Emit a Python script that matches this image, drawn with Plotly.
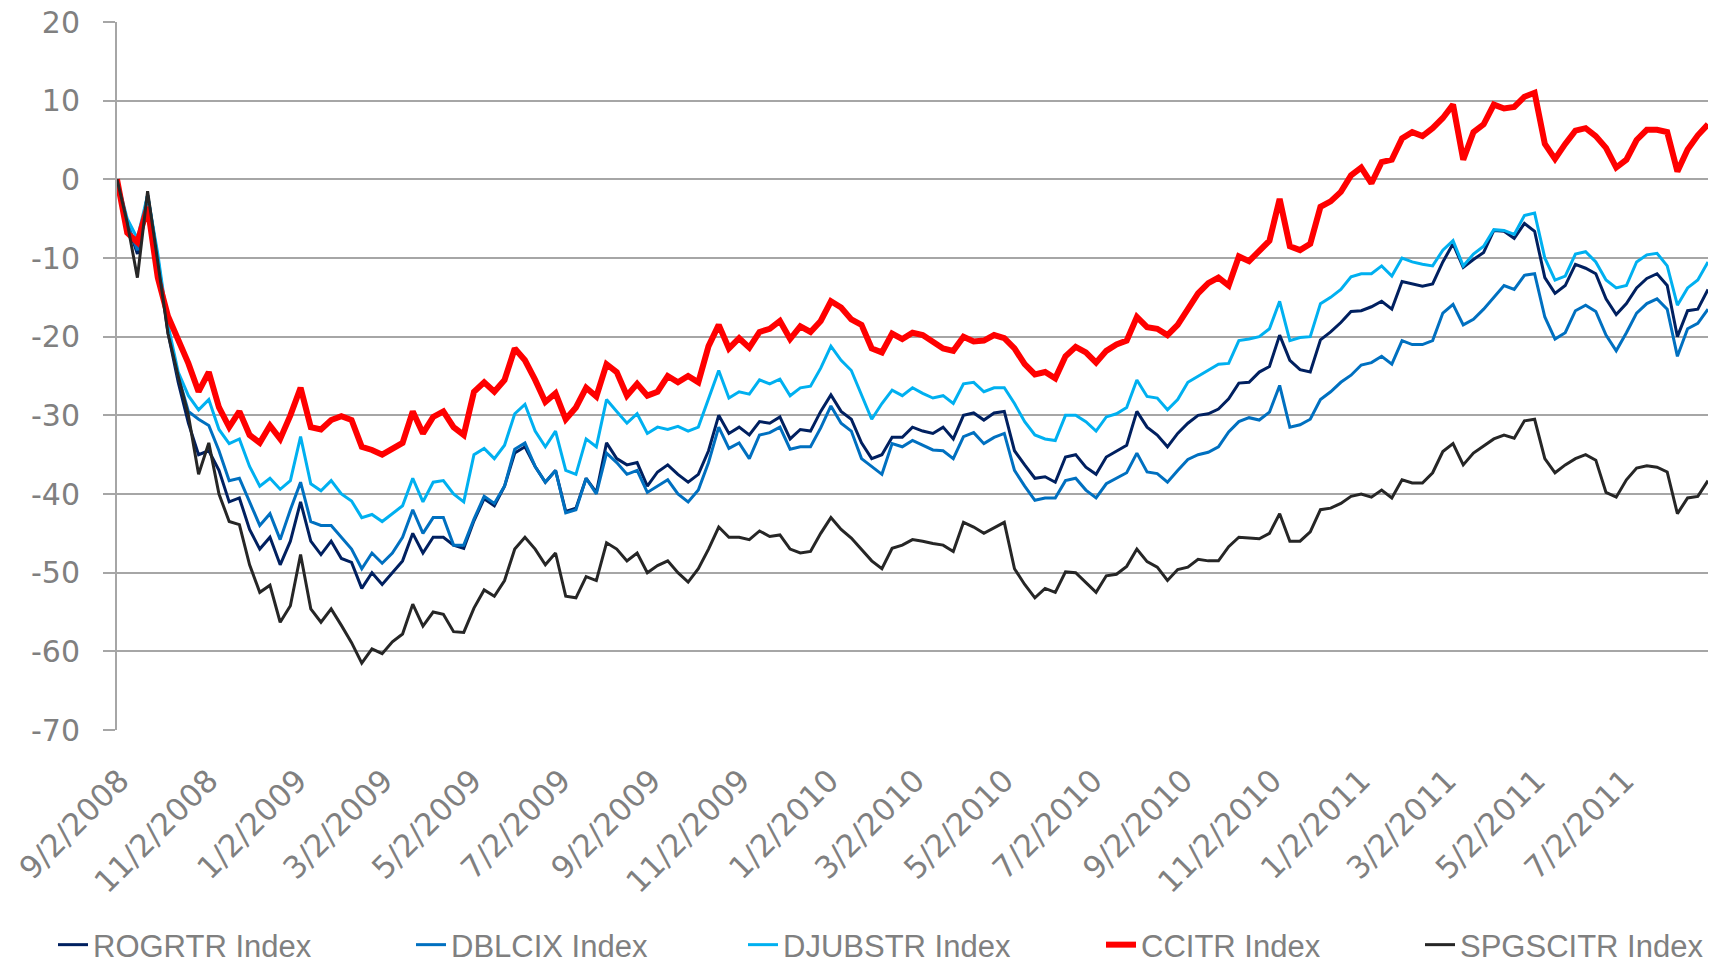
import pandas as pd
import plotly.graph_objects as go

# weekly samples (every 7 days from 9/2/2008)
START = "2008-09-02"
N_WEEKS = 157

ROGRTR = [
    0, -5.5, -9.5, -2, -10.2, -19.5, -25.8, -31, -35, -34.5,
    -37, -41, -40.5, -44.5, -47, -45.5, -49, -46, -41, -46,
    -47.7, -46, -48.2, -48.7, -52, -50, -51.5, -50, -48.5, -45,
    -47.5, -45.5, -45.5, -46.5, -46.9, -43.4, -40.6, -41.5, -39, -34.8,
    -34, -36.5, -38.5, -37, -42.2, -41.8, -38, -39.8, -33.5, -35.5,
    -36.3, -36, -39, -37.2, -36.3, -37.5, -38.5, -37.5, -34.5, -30,
    -32.3, -31.5, -32.5, -30.8, -31, -30.2, -33, -31.8, -32, -29.5,
    -27.4, -29.5, -30.5, -33.5, -35.5, -35, -32.8, -32.8, -31.5, -32,
    -32.3, -31.5, -33, -30, -29.7, -30.6, -29.7, -29.5, -34.5, -36.3,
    -38, -37.8, -38.5, -35.3, -35, -36.6, -37.5, -35.3, -34.5, -33.8,
    -29.5, -31.5, -32.5, -34, -32.3, -31, -30, -29.8, -29.2, -27.9,
    -25.9, -25.8, -24.5, -23.8, -19.8, -23, -24.2, -24.5, -20.4, -19.4,
    -18.2, -16.8, -16.7, -16.2, -15.5, -16.5, -13, -13.3, -13.6, -13.3,
    -10.5, -8.2, -11.2, -10.2, -9.3, -6.5, -6.6, -7.5, -5.6, -6.6,
    -12.5, -14.5, -13.5, -10.8, -11.3, -12, -15.2, -17.2, -15.8, -13.8,
    -12.6, -12, -13.5, -20, -16.7, -16.5, -14,
]

DBLCIX = [
    0, -5.5, -9, -2, -10, -19, -25, -29.5, -30.5, -31.3,
    -34.5, -38.3, -38, -41, -44, -42.5, -45.8, -42, -38.5, -43.5,
    -44, -44, -45.5, -47, -49.5, -47.5, -48.8, -47.5, -45.5, -42,
    -45, -43, -43, -46.5, -46.5, -43.2, -40.3, -41.2, -39, -34.3,
    -33.5, -36.5, -38.5, -37, -42.4, -42, -38, -40, -34.8, -36,
    -37.5, -37, -39.8, -39, -38.2, -40, -41, -39.5, -36, -31.5,
    -34.2, -33.5, -35.5, -32.5, -32.2, -31.5, -34.3, -34, -34, -31.6,
    -28.8, -31, -32, -35.5, -36.5, -37.5, -33.6, -34, -33.2, -33.8,
    -34.4, -34.5, -35.5, -32.7, -32.2, -33.6, -32.8, -32.3, -37, -39,
    -40.8, -40.5, -40.5, -38.3, -38, -39.5, -40.5, -38.7, -38, -37.3,
    -34.8, -37.2, -37.4, -38.5, -37, -35.6, -35, -34.7, -34, -32.1,
    -30.8, -30.3, -30.6, -29.6, -26.2, -31.5, -31.2, -30.5, -28, -27,
    -25.8, -24.9, -23.6, -23.3, -22.5, -23.5, -20.5, -21, -21, -20.5,
    -17, -15.9, -18.5, -17.8, -16.5, -15, -13.5, -14, -12.2, -12,
    -17.5, -20.3, -19.5, -16.7, -16, -16.8, -19.8, -21.8, -19.5, -17,
    -15.8, -15.2, -16.5, -22.5, -19, -18.3, -16.5,
]

DJUBSTR = [
    0, -5, -7.5, -2, -9.5, -18.5, -24.5, -27.5, -29.3, -28,
    -31.8, -33.6, -33, -36.5, -39, -38, -39.4, -38.3, -32.7, -38.7,
    -39.6, -38.3, -40, -40.9, -43, -42.6, -43.5, -42.5, -41.5, -38,
    -41, -38.5, -38.3, -40, -41, -35, -34.2, -35.5, -33.8, -29.8,
    -28.6, -32, -34, -32, -37, -37.5, -33, -34, -28, -29.5,
    -31, -29.8, -32.3, -31.5, -31.8, -31.4, -32, -31.5, -28, -24.3,
    -27.8, -27, -27.3, -25.5, -26, -25.4, -27.5, -26.5, -26.3, -24,
    -21.2, -23, -24.3, -27.5, -30.5, -28.5, -26.8, -27.5, -26.5, -27.2,
    -27.8, -27.5, -28.5, -26, -25.8, -27, -26.5, -26.5, -28.5, -30.8,
    -32.5, -33, -33.2, -30, -30, -30.8, -32, -30.2, -29.8, -29,
    -25.5, -27.6, -27.8, -29.3, -28, -25.8, -25, -24.3, -23.5, -23.4,
    -20.5, -20.3, -20, -19, -15.5, -20.5, -20.1, -20, -15.8, -15,
    -14, -12.4, -12, -12, -11, -12.3, -10, -10.5, -10.8, -11,
    -9, -7.8, -11, -9.5, -8.5, -6.4, -6.5, -7, -4.6, -4.3,
    -10, -12.8, -12.3, -9.5, -9.2, -10.5, -12.8, -13.8, -13.5, -10.5,
    -9.6, -9.4, -11, -16, -13.8, -12.8, -10.5,
]

CCITR = [
    0, -6.8, -8, -3.5, -12.5, -17.4, -20.4, -23.4, -27, -24.5,
    -29, -31.5, -29.5, -32.5, -33.5, -31.3, -33, -30, -26.5, -31.5,
    -31.8, -30.6, -30.1, -30.6, -34, -34.4, -35, -34.3, -33.5, -29.5,
    -32.3, -30.2, -29.5, -31.5, -32.5, -27, -25.8, -27, -25.5, -21.5,
    -23, -25.5, -28.3, -27.2, -30.5, -29, -26.5, -27.6, -23.5, -24.5,
    -27.5, -26, -27.5, -27, -25, -25.8, -25, -25.8, -21.2, -18.5,
    -21.5, -20.2, -21.4, -19.4, -19, -18, -20.3, -18.7, -19.4, -18,
    -15.5, -16.3, -17.8, -18.5, -21.5, -22, -19.6, -20.3, -19.5, -19.8,
    -20.7, -21.5, -21.8, -20, -20.6, -20.5, -19.8, -20.2, -21.5, -23.5,
    -24.8, -24.5, -25.3, -22.5, -21.3, -22, -23.3, -21.8, -21, -20.5,
    -17.5, -18.8, -19, -19.8, -18.5, -16.5, -14.5, -13.2, -12.5, -13.5,
    -9.8, -10.4, -9, -7.8, -2.5, -8.5, -9, -8.2, -3.5, -2.8,
    -1.6, 0.5, 1.5, -0.5, 2.2, 2.5, 5.2, 6, 5.5, 6.5,
    7.8, 9.5, 2.5, 6, 7, 9.5, 9, 9.2, 10.5, 11,
    4.5, 2.6, 4.5, 6.2, 6.5, 5.5, 4, 1.5, 2.5, 5,
    6.3, 6.3, 6, 1, 3.8, 5.6, 7,
]

SPGSCITR = [
    0, -5.5, -12.5, -1.5, -10.5, -19.6, -25, -30, -37.5, -33.5,
    -40, -43.5, -43.9, -49, -52.5, -51.6, -56.3, -54.2, -47.7, -54.6,
    -56.3, -54.6, -56.7, -58.9, -61.5, -59.7, -60.3, -58.8, -57.8, -54,
    -56.8, -55, -55.3, -57.5, -57.6, -54.5, -52.2, -53, -51, -47,
    -45.5, -47, -49, -47.5, -53, -53.2, -50.5, -51, -46.2, -47,
    -48.5, -47.5, -50, -49.1, -48.5, -50, -51.2, -49.5, -47, -44.2,
    -45.5, -45.5, -45.8, -44.7, -45.4, -45.2, -47, -47.5, -47.3, -45,
    -43, -44.5, -45.6, -47, -48.5, -49.5, -46.9, -46.5, -45.8, -46,
    -46.3, -46.5, -47.3, -43.6, -44.2, -45, -44.3, -43.6, -49.5, -51.5,
    -53.2, -52, -52.5, -49.9, -50, -51.2, -52.5, -50.4, -50.2, -49.2,
    -47, -48.6, -49.3, -51, -49.6, -49.3, -48.3, -48.5, -48.5, -46.7,
    -45.5, -45.6, -45.7, -45, -42.5, -46, -46, -44.8, -42, -41.8,
    -41.2, -40.3, -40, -40.4, -39.5, -40.5, -38.2, -38.6, -38.6, -37.3,
    -34.6, -33.6, -36.3, -34.8, -33.9, -33, -32.5, -32.9, -30.7, -30.5,
    -35.5, -37.3, -36.3, -35.5, -35, -35.7, -39.8, -40.4, -38.2, -36.7,
    -36.4, -36.6, -37.2, -42.5, -40.5, -40.3, -38.3,
]

TICK_DATES = [
    "2008-09-02", "2008-11-02", "2009-01-02", "2009-03-02", "2009-05-02",
    "2009-07-02", "2009-09-02", "2009-11-02", "2010-01-02", "2010-03-02",
    "2010-05-02", "2010-07-02", "2010-09-02", "2010-11-02", "2011-01-02",
    "2011-03-02", "2011-05-02", "2011-07-02",
]
TICK_LABELS = [
    "9/2/2008", "11/2/2008", "1/2/2009", "3/2/2009", "5/2/2009",
    "7/2/2009", "9/2/2009", "11/2/2009", "1/2/2010", "3/2/2010",
    "5/2/2010", "7/2/2010", "9/2/2010", "11/2/2010", "1/2/2011",
    "3/2/2011", "5/2/2011", "7/2/2011",
]
Y_TICKS = [-70, -60, -50, -40, -30, -20, -10, 0, 10, 20]
Y_LABELS = ["-70", "-60", "-50", "-40", "-30", "-20", "-10", "0", "10", "20"]

# ── series styling ───────────────────────────────────────────────────────────
SERIES = [
    ("ROGRTR Index",   ROGRTR,   "#002060", 3),
    ("DBLCIX Index",   DBLCIX,   "#0070C0", 3),
    ("DJUBSTR Index",  DJUBSTR,  "#00B0F0", 3),
    ("CCITR Index",    CCITR,    "#FF0000", 6),
    ("SPGSCITR Index", SPGSCITR, "#262626", 3),
]
LEGEND_X = [53, 411, 743, 1101, 1420]   # px, start of each legend entry
LEGEND_Y = 945                            # px, middle of legend row

GRID = "#A6A6A6"
TEXT = "#808080"
W, H = 1719, 965
L, R, T, B = 117, 11, 22, 235
PLOT_W = W - L - R
PLOT_H = H - T - B

dates = pd.date_range(START, periods=N_WEEKS, freq="7D")

fig = go.Figure()
layout_legends = {}
for i, (name, vals, color, width) in enumerate(SERIES):
    key = "legend" if i == 0 else f"legend{i + 1}"
    fig.add_trace(go.Scatter(
        x=dates, y=vals, name=name, mode="lines",
        line=dict(color=color, width=width),
        legend=key,
    ))
    layout_legends[key] = dict(
        x=(LEGEND_X[i] - L) / PLOT_W, y=(T + PLOT_H - LEGEND_Y) / PLOT_H,
        xanchor="left", yanchor="middle", orientation="h",
        bgcolor="rgba(0,0,0,0)", borderwidth=0,
        font=dict(family="Liberation Sans, Arial, sans-serif", size=31, color=TEXT),
    )

x_range = [dates[0], dates[-1]]
fig.update_layout(
    width=W, height=H,
    margin=dict(l=L, r=R, t=T, b=B, autoexpand=False),
    plot_bgcolor="white", paper_bgcolor="white",
    showlegend=True,
    xaxis=dict(
        type="date", range=x_range,
        tickvals=TICK_DATES, ticktext=TICK_LABELS, tickangle=-45,
        showgrid=False, showline=False, zeroline=False, ticks="",
        ticklabelstandoff=25, ticklabelshift=3,
        tickfont=dict(family="DejaVu Sans", size=31, color=TEXT),
    ),
    # tick marks sitting on the zero line
    xaxis2=dict(
        type="date", range=x_range, overlaying="x", anchor="free",
        position=(0 - (-70)) / 90,
        tickvals=TICK_DATES, showticklabels=False,
        ticks="outside", ticklen=12, tickwidth=2, tickcolor=GRID,
        showgrid=False, showline=False, zeroline=False,
    ),
    yaxis=dict(
        range=[-70, 20], tickvals=Y_TICKS, ticktext=Y_LABELS,
        showgrid=True, gridcolor=GRID, gridwidth=2,
        showline=True, linecolor=GRID, linewidth=2,
        ticks="outside", ticklen=12, tickwidth=2, tickcolor=GRID,
        zeroline=False, ticklabelstandoff=17,
        tickfont=dict(family="DejaVu Sans", size=30, color=TEXT),
    ),
    **layout_legends,
)

fig.write_html("out.html", config={"displayModeBar": False},
               post_script="document.body.style.margin='0';")
